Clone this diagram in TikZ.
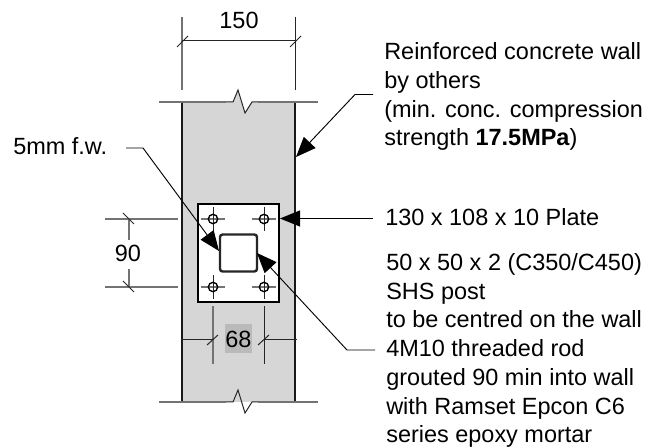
\documentclass[tikz,border=0pt]{standalone}
\usepackage{fontspec}
\setmainfont{Liberation Sans}
\usetikzlibrary{arrows.meta}
\definecolor{wallgrey}{gray}{0.84}
\definecolor{labelgrey}{gray}{0.73}
\tikzset{
  x=0.75pt,y=-0.75pt,
  thinline/.style={line width=0.75pt,black!85},
  greyline/.style={line width=1pt,black!55},
  wallside/.style={line width=1.5pt,black!90},
  leader/.style={line width=0.7pt,black,-{Triangle[length=15pt,width=12pt]}},
  label/.style={font=\fontsize{17.6pt}{21.6pt}\selectfont,inner sep=0pt,anchor=base west,align=left},
  dimtext/.style={font=\fontsize{17.6pt}{20pt}\selectfont,inner sep=0pt},
}
\begin{document}
\begin{tikzpicture}
\useasboundingbox (0,0) rectangle (667,448);
% wall
\fill[wallgrey] (182,102) rectangle (295,402);
\draw[wallside] (182,102) -- (182,402);
\draw[wallside] (295,102) -- (295,402);
\foreach \y in {102,402}{
  \draw[greyline] (159,\y) -- (226,\y);
  \draw[greyline] (258,\y) -- (318,\y);
  \fill[white] (233,\y) -- (238,\y-12) -- (245,\y+11) -- (252,\y) -- cycle;
  \fill[wallgrey] (233,\y) -- (238,\y-12) -- (241,\y) -- cycle;
  \draw[thinline] (226,\y) -- (233,\y) -- (238,\y-12) -- (245,\y+11) -- (252,\y) -- (258,\y);
}
% width dimension
\coordinate (wl) at (182,41);
\coordinate (wr) at (295,41);
\draw[greyline] (182,17) -- (182,90);
\draw[thinline] (295,17) -- (295,90);
\draw[thinline] (wl) -- (wr);
\draw[thinline] (177,47) -- (188,36);
\draw[thinline] (290,47) -- (301,36);
\node[dimtext] (t150) at (239,20) {150};
% plate
\node[draw=black,fill=white,line width=1.4pt,minimum width=81pt*0.75,minimum height=98pt*0.75,inner sep=0pt] (plate) at (238.5,253) {};
\foreach \hx/\hy/\n in {213/219/a,264/219/b,213/287/c,264/287/d}{
  \draw[greyline,line width=0.8pt] (\hx-12,\hy) -- (\hx+12,\hy);
  \draw[thinline] (\hx,\hy-12) -- (\hx,\hy+12);
  \node[draw=black,circle,line width=1pt,minimum size=7pt,inner sep=0pt] (hole\n) at (\hx,\hy) {};
}
\node[draw=black!85,fill=white,line width=1.8pt,rounded corners=2pt,minimum width=37pt*0.75,minimum height=37pt*0.75,inner sep=0pt] (post) at (238.5,253) {};
% 90 dimension
\draw[greyline] (105,219) -- (178,219);
\draw[greyline] (105,287) -- (178,287);
\draw[greyline] (129,219) -- (129,240);
\draw[greyline] (129,269) -- (129,287);
\draw[thinline] (123,213) -- (134,224);
\draw[thinline] (123,281) -- (134,292);
\node[dimtext] (t90) at (128,253) {90};
% 68 dimension
\draw[greyline] (213,306) -- (213,364);
\draw[thinline] (264,306) -- (264,364);
\draw[thinline] (181,340) -- (213,340);
\draw[thinline] (264,340) -- (297,340);
\draw[thinline] (207,345) -- (218,335);
\draw[thinline] (258,345) -- (269,335);
\node[dimtext,fill=labelgrey,minimum width=27pt*0.75,minimum height=29pt*0.75] (t68) at (238.5,339) {68};
% labels
\node[label] (l1) at (384,146) {Reinforced concrete wall\\by others\\(min. conc. compression\\strength \textbf{17.5MPa})};
\node[label] (l2) at (385,226) {130 x 108 x 10 Plate};
\node[label] (l3) at (386,328) {50 x 50 x 2 (C350/C450)\\SHS post\\to be centred on the wall};
\node[label] (l4) at (386,443) {4M10 threaded rod\\grouted 90 min into wall\\with Ramset Epcon C6\\series epoxy mortar};
\node[label] (l5) at (13,155) {5mm f.w.};
% leaders
\coordinate (k1) at (355,94.5);
\coordinate (k2) at (143,148);
\coordinate (k3) at (347,350);
\draw[leader] (373,94.5) -- (k1) -- (296,157);
\draw[leader] (373,218.5) -- (280,218.5);
\draw[leader] (126,148) -- (k2) -- (219,251);
\draw[leader] (375,350) -- (k3) -- (257,253);
\end{tikzpicture}
\end{document}
